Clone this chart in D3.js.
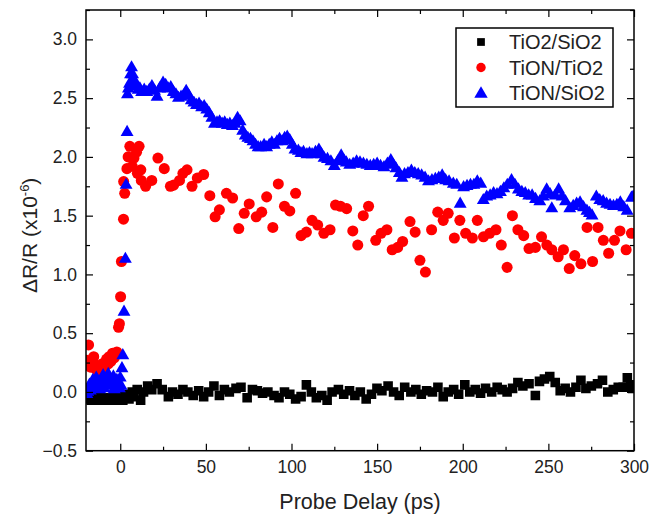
<!DOCTYPE html>
<html><head><meta charset="utf-8">
<script src="https://cdn.jsdelivr.net/npm/d3@7/dist/d3.min.js"></script>
<style>body{margin:0;background:#fff}svg{display:block}text{font-family:"Liberation Sans",Arial,sans-serif}</style>
</head><body>
<svg id="c" width="650" height="516"></svg>
<script>
// ---- data ----
const seriesNames = ["TiO2/SiO2", "TiON/TiO2", "TiON/SiO2"];
const xTicks = [0, 50, 100, 150, 200, 250, 300];
const yTicks = [-0.5, 0.0, 0.5, 1.0, 1.5, 2.0, 2.5, 3.0];

const blackX = [-20,-19,-18,-17,-16,-15,-14,-13,-12,-11,-10,-9,-8,-7,-6,-5,-4,-3,-2,-1,0,0.5,1.5,2.7,3.9,5.1,7.0,8.0,9.9,11.9,13.6,16.0,18.4,21.5,24.5,28.1,30.5,33.7,36.6,39.5,42.6,45.8,48.7,51.6,54.7,57.9,60.8,63.7,67.6,70.5,74.1,77.2,80.1,83.1,86.2,89.8,92.7,95.9,99.0,102.4,105.6,108.7,111.6,114.5,117.7,120.8,123.7,127.4,130.5,133.9,137.0,140.2,143.6,146.7,149.9,152.8,156.4,159.6,162.9,166.1,169.7,172.6,175.8,178.9,182.3,185.5,188.6,191.5,194.7,197.6,201.2,204.1,207.3,210.4,213.3,216.9,220.1,223.0,225.9,229.1,232.2,235.1,238.7,242.4,244.8,247.7,250.8,254.0,256.9,259.8,262.9,266.1,269.0,271.9,275.1,278.7,281.6,284.7,287.9,290.8,293.7,296.1,298.1,299.3];
const blackY = [-0.02,-0.05,-0.06,-0.07,-0.06,-0.05,-0.06,-0.07,-0.06,-0.05,-0.07,-0.06,-0.05,-0.06,-0.07,-0.06,-0.05,-0.06,-0.07,-0.05,-0.06,-0.04,-0.07,-0.05,-0.02,-0.06,0.0,-0.04,0.02,-0.07,0.0,0.05,0.02,0.07,0.02,-0.04,0.0,-0.02,0.02,0.0,-0.03,0.01,-0.04,0.0,0.05,-0.03,0.02,0.0,0.03,0.04,-0.05,0.02,0.01,-0.01,0.0,-0.03,-0.05,0.0,-0.02,-0.06,-0.04,0.06,0.0,-0.05,-0.03,-0.07,0.0,0.02,-0.02,0.01,-0.03,0.0,-0.06,-0.02,0.03,0.01,0.05,0.0,-0.03,0.04,0.0,0.02,-0.02,0.01,0.0,0.04,-0.04,0.0,0.02,-0.02,0.06,0.0,0.02,-0.01,0.03,0.0,0.04,0.02,0.0,0.03,0.08,0.05,0.07,-0.03,0.09,0.11,0.13,0.08,0.01,0.03,0.0,0.04,0.10,0.03,0.05,0.07,0.10,0.0,0.02,0.04,0.04,0.12,0.06,0.03];

const redX = [-19.5,-18.5,-18,-17,-16,-15.5,-14.5,-13,-12,-11,-10.5,-9.5,-8,-7,-6.5,-5.5,-4.5,-3.5,-2,-1,-0.5,0.2,0.7,1.9,2.0,2.6,3.9,4.6,5.6,7.0,8.0,9.5,10.0,11.0,12.0,12.3,14.8,18.4,22.0,25.7,29.3,31.2,34.6,36.6,39.0,41.9,45.0,48.7,52.3,55.4,57.9,62.0,65.6,69.2,72.4,75.3,79.4,82.6,85.5,89.1,92.3,95.9,99.0,102.4,105.6,108.7,112.0,115.3,118.9,122.5,125.7,128.6,132.2,135.8,138.7,141.9,145.0,149.2,152.3,155.7,158.8,162.0,164.9,169.2,172.2,175.0,178.2,181.8,185.4,188.6,191.5,195.1,198.3,201.7,205.6,208.5,212.1,215.7,219.4,222.5,225.9,229.0,232.2,235.6,238.7,242.4,246.0,249.1,252.0,255.7,258.8,262.2,265.4,269.0,272.6,275.8,279.0,282.1,285.2,288.6,291.8,295.4,298.5];
const redY = [0.27,0.40,0.22,0.21,0.26,0.30,0.20,0.17,0.14,0.19,0.24,0.20,0.28,0.24,0.30,0.26,0.33,0.29,0.34,0.55,0.58,0.81,1.11,1.47,1.79,1.69,1.90,2.00,2.09,1.92,1.99,2.04,1.86,2.09,1.89,1.80,1.75,1.80,1.99,1.90,1.75,1.76,1.80,1.86,1.89,1.75,1.82,1.85,1.67,1.49,1.55,1.69,1.65,1.39,1.52,1.60,1.49,1.53,1.66,1.40,1.77,1.58,1.54,1.69,1.33,1.36,1.46,1.42,1.35,1.38,1.59,1.58,1.56,1.37,1.25,1.50,1.58,1.29,1.35,1.38,1.21,1.23,1.28,1.45,1.36,1.12,1.02,1.38,1.53,1.46,1.52,1.31,1.46,1.35,1.31,1.46,1.32,1.35,1.38,1.25,1.06,1.50,1.38,1.33,1.22,1.23,1.32,1.25,1.21,1.15,1.21,1.05,1.16,1.09,1.40,1.11,1.40,1.29,1.18,1.29,1.37,1.21,1.35];

const blueX = [-20,-19.5,-19,-18,-17.5,-17,-16,-15,-14.5,-14,-13,-12,-11,-10,-9.5,-9,-8,-7,-6.5,-6,-5,-4,-3.5,-3,-2,-1,-0.5,0,0.5,1.0,1.5,2.2,3.0,3.4,4.0,4.2,4.8,5.4,6.0,6.6,7.2,7.8,8.5,9.5,10.5,11.5,12.5,14,15.5,17,18.5,20,21.5,23,25,26.5,28,29.5,31,32.5,34,35.5,37,38.5,40,41.5,43,44.5,46,47.5,49,50.5,52,53.5,55,56.5,58,59.5,61,62.5,64,65.5,67,68.5,70,71.5,73,74.5,76,77.5,79,80.5,82,84,85.5,87,88.5,90,91.5,93,94.5,96,97.5,99,100.5,102,104,105.5,107,109,110.5,112,114,116,117.5,119,121,123,125,127,129,130.5,132,134,136,138,140,142,144,146,148,150,152,154,156,158,159.5,161,163,164.5,166,168,170,172,174,176,178,180,182,184,186,188,190,192,194.5,196.5,198.5,200.5,202.5,204.5,206.5,208.5,210.5,212,214,216,218,220,222,224,226,228.5,230.5,232.5,234.5,236.5,238.5,240.5,242.5,245,247,249,251,252,254,256,258,260,262.5,264.5,266.5,268.5,270.5,272.5,274,275.5,278,280,282,284,286,288,290,292,294,296,298.5,299.5];
const blueY = [0.02,-0.02,0.0,0.06,0.01,0.03,0.10,0.04,0.08,0.12,0.08,0.02,0.10,0.14,0.03,0.06,0.12,0.15,0.08,0.05,0.09,0.13,0.02,0.04,0.10,0.07,0.03,0.12,0.05,0.20,0.31,0.68,1.13,1.76,2.21,2.53,2.58,2.62,2.70,2.76,2.70,2.66,2.62,2.60,2.57,2.58,2.55,2.57,2.55,2.57,2.60,2.56,2.51,2.58,2.63,2.61,2.58,2.59,2.55,2.53,2.50,2.51,2.52,2.56,2.52,2.48,2.46,2.44,2.45,2.42,2.43,2.40,2.37,2.33,2.28,2.29,2.30,2.28,2.29,2.27,2.28,2.26,2.28,2.33,2.30,2.22,2.18,2.16,2.15,2.13,2.10,2.08,2.08,2.10,2.08,2.10,2.12,2.10,2.13,2.15,2.13,2.16,2.17,2.14,2.10,2.06,2.05,2.03,2.04,2.02,2.03,2.02,2.04,2.06,2.02,1.99,1.98,1.96,1.92,1.96,2.01,1.97,1.95,1.93,1.94,1.96,1.95,1.94,1.93,1.92,1.93,1.94,1.92,1.91,1.94,1.97,1.93,1.90,1.86,1.82,1.85,1.86,1.88,1.86,1.85,1.84,1.82,1.79,1.80,1.81,1.82,1.84,1.80,1.79,1.77,1.76,1.60,1.74,1.75,1.76,1.76,1.79,1.77,1.63,1.66,1.67,1.69,1.68,1.70,1.73,1.76,1.80,1.76,1.72,1.70,1.69,1.67,1.67,1.64,1.62,1.66,1.72,1.68,1.56,1.67,1.72,1.66,1.62,1.56,1.58,1.60,1.61,1.57,1.54,1.52,1.50,1.66,1.63,1.62,1.60,1.59,1.58,1.59,1.61,1.57,1.54,1.65,1.66];

// ---- layout ----
const svg = d3.select("#c");
const L = 86, R = 634, T = 10, B = 450.7;
const x = d3.scaleLinear().domain([-20, 300]).range([L, R]);
const y = d3.scaleLinear().domain([-0.5, 3.25]).range([B, T]);
const font = '"Liberation Sans", Arial, sans-serif';

svg.append("defs").append("clipPath").attr("id", "clipP")
  .append("rect").attr("x", L).attr("y", T).attr("width", R - L).attr("height", B - T);

const series = [
  {name: seriesNames[0], xs: blackX, ys: blackY, color: "#000000", sym: d3.symbolSquare, size: 92},
  {name: seriesNames[1], xs: redX, ys: redY, color: "#ff0000", sym: d3.symbolCircle, size: 96},
  {name: seriesNames[2], xs: blueX, ys: blueY, color: "#0000ff", sym: d3.symbolTriangle, size: 72}
];

const marks = svg.append("g").attr("clip-path", "url(#clipP)");
series.forEach(s => {
  const pts = s.xs.map((v, i) => [v, s.ys[i]]);
  marks.append("g").selectAll("path").data(pts).join("path")
    .attr("d", d3.symbol().type(s.sym).size(s.size))
    .attr("transform", d => `translate(${x(d[0])},${y(d[1])})`)
    .attr("fill", s.color);
});

// ---- axes ----
const xMinor = d3.range(-25, 301, 25).filter(v => v >= -20 && v % 50 !== 0);
const yMinor = d3.range(-0.5, 3.26, 0.25).filter(v => Math.abs((v * 2) - Math.round(v * 2)) > 1e-6);

function styleAxis(g) {
  g.select(".domain").remove();
  g.selectAll("line").attr("stroke", "#000").attr("stroke-width", 1.2);
  g.selectAll("text").attr("font-family", font).attr("font-size", 17.5).attr("fill", "#222");
}
svg.append("g").attr("transform", `translate(0,${B})`)
  .call(d3.axisBottom(x).tickValues(xTicks).tickSize(-7).tickPadding(10).tickFormat(d3.format("d"))).call(styleAxis);
svg.append("g").attr("transform", `translate(0,${B})`)
  .call(d3.axisBottom(x).tickValues(xMinor).tickSize(-4).tickFormat("")).call(styleAxis);
svg.append("g").attr("transform", `translate(0,${T})`)
  .call(d3.axisTop(x).tickValues(xTicks).tickSize(-7).tickFormat("")).call(styleAxis);
svg.append("g").attr("transform", `translate(0,${T})`)
  .call(d3.axisTop(x).tickValues(xMinor).tickSize(-4).tickFormat("")).call(styleAxis);
svg.append("g").attr("transform", `translate(${L},0)`)
  .call(d3.axisLeft(y).tickValues(yTicks).tickSize(-7).tickPadding(9).tickFormat(d3.format(".1f"))).call(styleAxis);
svg.append("g").attr("transform", `translate(${L},0)`)
  .call(d3.axisLeft(y).tickValues(yMinor).tickSize(-4).tickFormat("")).call(styleAxis);
svg.append("g").attr("transform", `translate(${R},0)`)
  .call(d3.axisRight(y).tickValues(yTicks).tickSize(-7).tickFormat("")).call(styleAxis);
svg.append("g").attr("transform", `translate(${R},0)`)
  .call(d3.axisRight(y).tickValues(yMinor).tickSize(-4).tickFormat("")).call(styleAxis);

svg.append("rect").attr("x", L).attr("y", T).attr("width", R - L).attr("height", B - T)
  .attr("fill", "none").attr("stroke", "#000").attr("stroke-width", 1.5);

// axis titles
svg.append("text").attr("x", (L + R) / 2).attr("y", 509).attr("text-anchor", "middle")
  .attr("font-family", font).attr("font-size", 21.5).attr("fill", "#222").text("Probe Delay (ps)");
const yt = svg.append("text").attr("transform", `translate(37,${(T + B) / 2 + 5}) rotate(-90)`)
  .attr("text-anchor", "middle").attr("font-family", font).attr("font-size", 21).attr("fill", "#222");
yt.append("tspan").text("ΔR/R (x10");
yt.append("tspan").attr("font-size", 13).attr("dy", -8).text("-6");
yt.append("tspan").attr("dy", 8).text(")");

// ---- legend ----
const lg = svg.append("g");
lg.append("rect").attr("x", 456).attr("y", 28).attr("width", 157).attr("height", 79)
  .attr("fill", "#fff").attr("stroke", "#000").attr("stroke-width", 1.5);
const legSizes = [60, 70, 78];
series.forEach((s, i) => {
  const cy = 42 + i * 25.5;
  lg.append("path").attr("d", d3.symbol().type(s.sym).size(legSizes[i]))
    .attr("transform", `translate(481,${cy + (i === 2 ? 1 : 0)})`).attr("fill", s.color);
  lg.append("text").attr("x", 509).attr("y", cy + 7).attr("font-family", font)
    .attr("font-size", 20).attr("fill", "#222").text(s.name);
});
</script>
</body></html>
